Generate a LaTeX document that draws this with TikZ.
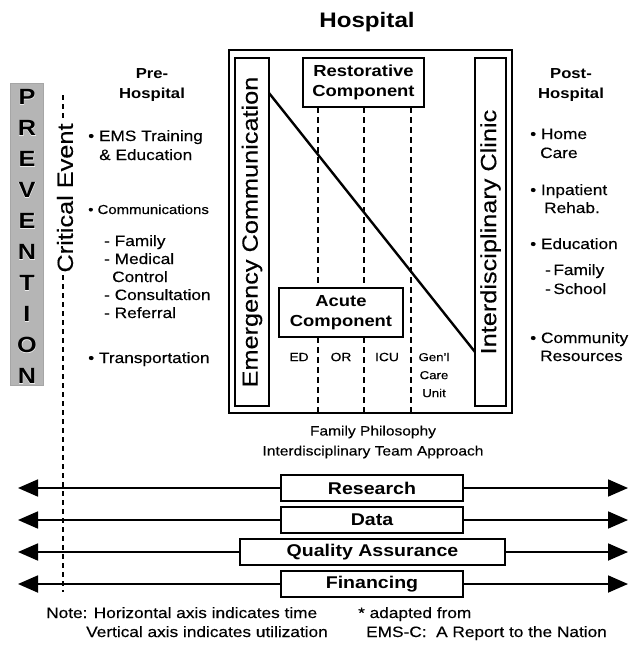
\documentclass[tikz,border=0pt]{standalone}
\usepackage{fontspec}
\setmainfont{Liberation Sans}[FakeStretch=1.15, UprightFeatures={FakeBold=0.3}]
\newfontfamily\halofont{Liberation Sans Bold}[FakeStretch=1.15, FakeBold=3]
\usetikzlibrary{arrows.meta}
\newcommand\myfs[1]{\fontsize{#1}{#1}\selectfont}
\begin{document}
\begin{tikzpicture}[x=1pt,y=-1pt,
  bx/.style={draw, line width=1.7pt, inner sep=0pt},
  item/.style={anchor=base west, inner sep=0pt, font=\myfs{15}},
  hdr/.style={align=center, inner sep=0pt, font=\bfseries\fontsize{14.5}{20}\selectfont},
  vtext/.style={bx, rotate=90, font=\myfs{22}},
  dline/.style={line width=1.6pt, dash pattern=on 6pt off 4pt},
  bar/.style={bx, fill=white, minimum height=26pt, font=\bfseries\myfs{17}},
  arr/.style={line width=1.8pt, -{Triangle[length=20pt,width=17pt]}},
  small/.style={inner sep=0pt, font=\myfs{12}},
  note/.style={anchor=base west, inner sep=0pt, font=\myfs{15}}]
\useasboundingbox (0,0) rectangle (631,645);

% title
\node[font=\bfseries\myfs{21}] (title) at (367,22) {Hospital};

% prevention
\node[draw=gray!70, fill=gray!58, minimum width=33pt, minimum height=302pt, inner sep=0pt] (prev) at (27,234) {};
\foreach \l [count=\i from 0] in {P,R,E,V,E,N,T,I,O,N}{
  \node[font=\halofont\myfs{22}, text=white!85!gray, inner sep=0pt] (prevh\i) at (27,{97+31*\i}) {\l};
  \node[font=\bfseries\myfs{22}, inner sep=0pt] (prev\i) at (27,{97+31*\i}) {\l};
}

% critical event
\coordinate (ceT) at (63,95);
\coordinate (ceB) at (63,592);
\draw[line width=1.4pt, dash pattern=on 5pt off 4pt] (ceT) -- (ceB);
\node[rotate=90, fill=white, inner sep=1pt, font=\myfs{22}] (ce) at (65,198) {Critical Event};

% pre-hospital
\node[hdr] (preh) at (152,85) {Pre-\\Hospital};
\node[item] (p1) at (88,141) {\textbullet\ EMS Training};
\node[item] (p1b) at (99,160) {\& Education};
\node[item, font=\myfs{13}] (p2) at (88,214) {\textbullet\ Communications};
\node[item] (p3) at (104,246) {- Family};
\node[item] (p4) at (104,264) {- Medical};
\node[item] (p4b) at (112,282) {Control};
\node[item] (p5) at (104,300) {- Consultation};
\node[item] (p6) at (104,318) {- Referral};
\node[item] (p7) at (88,363) {\textbullet\ Transportation};

% hospital frame
\node[bx, minimum width=283pt, minimum height=363pt] (hosp) at (370.5,231.5) {};
\node[bx, fill=white, minimum width=121pt, minimum height=49pt, align=center,
      font=\bfseries\fontsize{16}{20}\selectfont] (rest) at (363.5,82.5) {Restorative\\Component};

% dashed unit separators
\coordinate (d1t) at (318,107); \coordinate (d1b) at (318,413);
\coordinate (d2t) at (364,107); \coordinate (d2b) at (364,413);
\coordinate (d3t) at (411,107); \coordinate (d3b) at (411,413);
\draw[dline] (d1t) -- (d1b);
\draw[dline] (d2t) -- (d2b);
\draw[dline] (d3t) -- (d3b);

\node[bx, fill=white, minimum width=124pt, minimum height=49pt, align=center,
      font=\bfseries\fontsize{16}{20}\selectfont] (acute) at (341,312.5) {Acute\\Component};

\node[vtext, minimum width=348pt, minimum height=34pt] (emc) at (252,232) {Emergency Communication};
\node[vtext, minimum width=348pt, minimum height=31pt] (idc) at (490.5,232) {Interdisciplinary Clinic};

% utilization line
\coordinate (dgs) at (269,93);
\coordinate (dge) at (475,352);
\draw[line width=2.4pt] (dgs) -- (dge);

% unit labels
\node[small] (ed) at (299,357) {ED};
\node[small] (or) at (341,357) {OR};
\node[small] (icu) at (387,357) {ICU};
\node[small, align=center, font=\fontsize{11.5}{18}\selectfont] (gcu) at (434,375) {Gen'l\\Care\\Unit};

% below box
\node[align=center, inner sep=0pt, font=\fontsize{13.5}{20}\selectfont] (phil) at (373,442) {Family Philosophy\\Interdisciplinary Team Approach};

% post-hospital
\node[hdr] (posth) at (571,85) {Post-\\Hospital};
\node[item] (q1) at (530,139) {\textbullet\ Home};
\node[item] (q1b) at (540,158) {Care};
\node[item] (q2) at (530,195) {\textbullet\ Inpatient};
\node[item] (q2b) at (544,213) {Rehab.};
\node[item] (q3) at (530,249) {\textbullet\ Education};
\node[item] (q4) at (545,275) {-\,Family};
\node[item] (q5) at (545,294) {-\,School};
\node[item] (q6) at (530,343) {\textbullet\ Community};
\node[item] (q6b) at (540,361) {Resources};

% bars
\node[bar, minimum width=182pt] (res) at (372,488) {Research};
\node[bar, minimum width=182pt] (dat) at (372,520) {Data};
\node[bar, minimum width=265pt] (qa) at (372.5,552) {Quality Assurance};
\node[bar, minimum width=182pt] (fin) at (372,584) {Financing};
\foreach \n/\y in {res/488,dat/520,qa/552,fin/584}{
  \coordinate (\n L) at (18,\y);
  \coordinate (\n R) at (628,\y);
  \draw[arr] (\n.west) -- (\n L);
  \draw[arr] (\n.east) -- (\n R);
}

% notes
\node[note] (n1) at (46,618) {Note: Horizontal axis indicates time};
\node[note] (n2) at (86,637) {Vertical axis indicates utilization};
\node[note] (n3) at (358,618) {*\ adapted from};
\node[note] (n4) at (366,637) {EMS-C:\ \ A Report to the Nation};
\end{tikzpicture}
\end{document}
